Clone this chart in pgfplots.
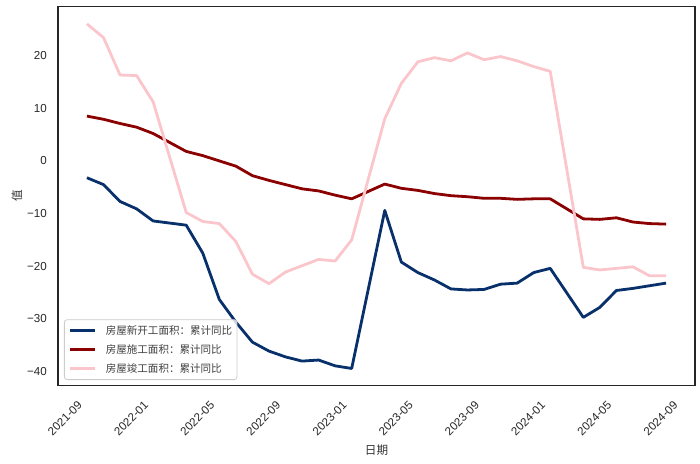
\documentclass[border=0pt]{standalone}
\usepackage{fontspec}
\setmainfont{Liberation Sans}
\newfontfamily\cjk{Noto Sans CJK SC}
\usepackage{pgfplots}
\pgfplotsset{compat=1.18}
\usepackage{pgfplotstable}
\definecolor{cblue}{RGB}{8,48,107}
\definecolor{cred}{RGB}{139,0,0}
\definecolor{cpink}{RGB}{250,198,203}
% x = month index, 0 = 2021-08 (month-end), January values absent
\pgfplotstableread{
x y
0 -3.2
1 -4.5
2 -7.7
3 -9.1
4 -11.4
6 -12.2
7 -17.5
8 -26.3
9 -30.6
10 -34.4
11 -36.1
12 -37.2
13 -38.0
14 -37.8
15 -38.9
16 -39.4
18 -9.4
19 -19.2
20 -21.2
21 -22.6
22 -24.3
23 -24.5
24 -24.4
25 -23.4
26 -23.2
27 -21.2
28 -20.4
30 -29.7
31 -27.8
32 -24.6
33 -24.2
34 -23.7
35 -23.2
}\newstarts
\pgfplotstableread{
x y
0 8.5
1 7.9
2 7.1
3 6.4
4 5.2
6 1.8
7 1.0
8 0.0
9 -1.0
10 -2.8
11 -3.7
12 -4.5
13 -5.3
14 -5.7
15 -6.5
16 -7.2
18 -4.4
19 -5.2
20 -5.6
21 -6.2
22 -6.6
23 -6.8
24 -7.1
25 -7.1
26 -7.3
27 -7.2
28 -7.2
30 -11.0
31 -11.1
32 -10.8
33 -11.6
34 -11.9
35 -12.0
}\underconst
\pgfplotstableread{
x y
0 26.0
1 23.4
2 16.3
3 16.2
4 11.2
6 -9.8
7 -11.5
8 -11.9
9 -15.3
10 -21.5
11 -23.3
12 -21.1
13 -19.9
14 -18.7
15 -19.0
16 -15.0
18 8.0
19 14.7
20 18.8
21 19.6
22 19.0
23 20.5
24 19.2
25 19.8
26 19.0
27 17.9
28 17.0
30 -20.2
31 -20.7
32 -20.4
33 -20.1
34 -21.8
35 -21.8
}\completed
\begin{document}
\begin{tikzpicture}
\useasboundingbox (0,0) rectangle (525pt,348pt);
\begin{axis}[
  at={(43.5pt,58.725pt)}, anchor=south west,
  scale only axis, width=477.75pt, height=284.25pt,
  xmin=-1.75, xmax=36.75, ymin=-42.67, ymax=29.27,
  axis line style={black!85, line width=1.2pt},
  major tick length=0pt,
  xtick={-0.6,3.4,7.4,11.4,15.4,19.4,23.4,27.4,31.4,35.4},
  xticklabels={2021-09,2022-01,2022-05,2022-09,2023-01,2023-05,2023-09,2024-01,2024-05,2024-09},
  ytick={-40,-30,-20,-10,0,10,20},
  yticklabels={−40,−30,−20,−10,0,10,20},
  tick label style={font=\fontsize{8.7}{10}\selectfont, text=black!85},
  xticklabel style={rotate=45, anchor=north east, inner sep=0pt},
  yticklabel style={anchor=east, inner sep=0pt},
  xticklabel shift=10.7pt,
  yticklabel shift=8.25pt,
  xlabel={\cjk 日期}, ylabel={\cjk 值},
  every axis x label/.style={at={(axis description cs:0.5,-0.1697)}, anchor=center, font=\fontsize{8.7}{10}\selectfont, text=black!80},
  every axis y label/.style={at={(axis description cs:-0.0644,0.5)}, anchor=center, rotate=90, font=\fontsize{8.7}{10}\selectfont, text=black!80},
  legend style={at={(axis description cs:0.0094,0.015)}, anchor=south west, draw=black!20, line width=0.6pt, rounded corners=2pt, fill=white, fill opacity=0.8, text opacity=1, font=\cjk\fontsize{7.9}{9}\selectfont, text=black!75, inner xsep=3.5pt, inner ysep=4.2pt, row sep=6pt, column sep=6.75pt, nodes={inner sep=0pt, anchor=west}},
  legend cell align=left,
  legend image code/.code={\draw[#1] (0pt,0pt) -- (18.75pt,0pt);},
]
\addplot[cblue, line width=2.1pt, line join=round] table[x=x,y=y]{\newstarts};
\addlegendentry{房屋新开工面积：累计同比}
\addplot[cred, line width=2.1pt, line join=round] table[x=x,y=y]{\underconst};
\addlegendentry{房屋施工面积：累计同比}
\addplot[cpink, line width=2.1pt, line join=round] table[x=x,y=y]{\completed};
\addlegendentry{房屋竣工面积：累计同比}
\end{axis}
\end{tikzpicture}
\end{document}
